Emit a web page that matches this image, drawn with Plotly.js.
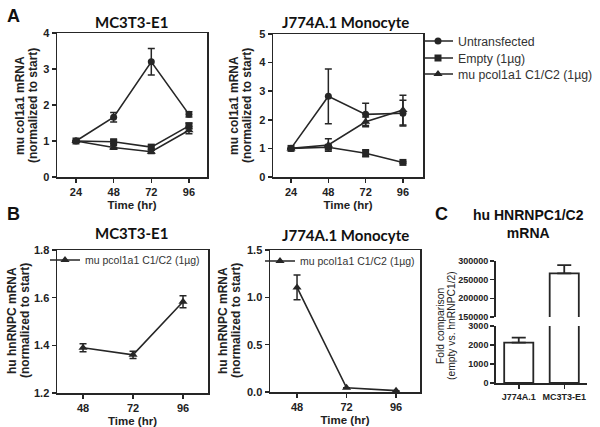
<!DOCTYPE html>
<html><head><meta charset="utf-8">
<script src="https://cdn.plot.ly/plotly-3.0.1.min.js"></script>
<style>html,body{margin:0;padding:0;background:#fff}#chart{width:600px;height:427px}</style>
</head><body><div id="chart"></div>
<script>
// ---- data ----
const timeA = [24, 48, 72, 96];
const a1Untrans = [1.0, 1.66, 3.20, 1.74];
const a1UntransErr = [0, 0.13, 0.37, 0.07];
const a1Empty = [1.0, 0.98, 0.83, 1.42];
const a1EmptyErr = [0, 0.05, 0.05, 0.08];
const a1Pcol = [1.0, 0.82, 0.70, 1.30];
const a1PcolErr = [0, 0.05, 0.05, 0.10];

const a2Untrans = [1.0, 2.82, 2.19, 2.23];
const a2UntransErr = [0, 0.96, 0.39, 0.45];
const a2Empty = [1.0, 1.04, 0.83, 0.51];
const a2EmptyErr = [0, 0.05, 0.12, 0.03];
const a2Pcol = [1.0, 1.12, 1.93, 2.34];
const a2PcolErr = [0, 0.22, 0.17, 0.52];

const timeB = [48, 72, 96];
const b1Pcol = [1.39, 1.36, 1.583];
const b1PcolErr = [0.017, 0.015, 0.025];
const b2Pcol = [1.105, 0.045, 0.014];
const b2PcolErr = [0.13, 0, 0];

const cCats = ["J774A.1", "MC3T3-E1"];
const cVals = [2120, 267000];
const cErr = [265, 22000];

const seriesNames = ["Untransfected", "Empty (1\u00b5g)", "mu pcol1a1 C1/C2 (1\u00b5g)"];

// ---- helpers ----
const W = 600, H = 427;
const fx = p => p / W;
const fy = p => 1 - p / H;
const INK = '#262626';
const FONT = 'Liberation Sans, Arial, sans-serif';

function lineTrace(x, y, err, name, symbol, xa, ya, opts) {
  return Object.assign({
    type: 'scatter', mode: 'lines+markers', x: x, y: y, name: name,
    xaxis: xa, yaxis: ya,
    line: {color: INK, width: 1.6},
    marker: {color: INK, symbol: symbol, size: symbol === 'triangle-up' ? 8 : 7},
    error_y: {type: 'data', array: err, visible: true, color: INK, thickness: 1.5, width: 3.5}
  }, opts || {});
}

const traces = [
  lineTrace(timeA, a1Untrans, a1UntransErr, seriesNames[0], 'circle', 'x', 'y', {legendgroup: 'u', legend: 'legend'}),
  lineTrace(timeA, a1Empty, a1EmptyErr, seriesNames[1], 'square', 'x', 'y', {legendgroup: 'e', legend: 'legend4'}),
  lineTrace(timeA, a1Pcol, a1PcolErr, seriesNames[2], 'triangle-up', 'x', 'y', {legendgroup: 'p', legend: 'legend5'}),
  lineTrace(timeA, a2Untrans, a2UntransErr, seriesNames[0], 'circle', 'x2', 'y2', {legendgroup: 'u', showlegend: false}),
  lineTrace(timeA, a2Empty, a2EmptyErr, seriesNames[1], 'square', 'x2', 'y2', {legendgroup: 'e', showlegend: false}),
  lineTrace(timeA, a2Pcol, a2PcolErr, seriesNames[2], 'triangle-up', 'x2', 'y2', {legendgroup: 'p', showlegend: false}),
  lineTrace(timeB, b1Pcol, b1PcolErr, seriesNames[2], 'triangle-up', 'x3', 'y3', {legend: 'legend2'}),
  lineTrace(timeB, b2Pcol, b2PcolErr, seriesNames[2], 'triangle-up', 'x4', 'y4', {legend: 'legend3'}),
];

function barTrace(ya) {
  return {
    type: 'bar', x: cCats, y: cVals, xaxis: 'x5', yaxis: ya, showlegend: false,
    width: 0.64,
    marker: {color: '#ffffff', line: {color: INK, width: 1.8}},
    error_y: {type: 'data', symmetric: false, array: cErr, arrayminus: [0, 0], visible: true, color: INK, thickness: 1.8, width: 7}
  };
}
traces.push(barTrace('y5'));
traces.push(barTrace('y6'));

const tickFont = {family: FONT, size: 11, color: '#222', weight: 'bold'};
const titleFont = {family: FONT, size: 11.5, color: '#222', weight: 'bold'};

function xAx(dom, range, vals, anchor, title) {
  return {
    domain: dom, range: range, tickvals: vals, ticktext: vals.map(String), anchor: anchor,
    showline: true, linecolor: INK, linewidth: 1.5, mirror: true,
    ticks: 'outside', ticklen: 4, tickwidth: 1.5, tickcolor: INK,
    showgrid: false, zeroline: false, tickfont: tickFont,
    title: {text: title, font: titleFont, standoff: 4}
  };
}
function yAx(dom, range, dtick, fmt, anchor) {
  return {
    domain: dom, range: range, dtick: dtick, tick0: range[0], tickformat: fmt, anchor: anchor,
    showline: true, linecolor: INK, linewidth: 1.5, mirror: true,
    ticks: 'outside', ticklen: 4, tickwidth: 1.5, tickcolor: INK,
    showgrid: false, zeroline: false, tickfont: tickFont
  };
}

const yTitleA = ['mu col1a1 mRNA', '(normalized to start)'];
const yTitleB = ['hu hnRNPC mRNA', '(normalized to start)'];
const yTitleC = ['Fold comparison', '(empty vs. hnRNPC1/2)'];

function leg(xPx, yPx, size) {
  return {
    x: fx(xPx), y: fy(yPx), xanchor: 'left', yanchor: 'middle',
    bgcolor: 'rgba(0,0,0,0)', borderwidth: 0,
    font: {family: FONT, size: size, color: '#333'}
  };
}

function ann(text, xPx, yPx, font, extra) {
  return Object.assign({text: text, x: fx(xPx), y: fy(yPx), xref: 'paper', yref: 'paper',
    xanchor: 'center', yanchor: 'middle', showarrow: false, font: font}, extra || {});
}
const panelFont = {family: FONT, size: 18, weight: 'bold', color: '#111'};
const headFont = {family: 'Lato, sans-serif', size: 15, weight: 'bold', color: '#111'};
const yTitleFont = {family: FONT, size: 12, weight: 'bold', color: '#222'};
const cTitleFont = {family: FONT, size: 10.3, color: '#222'};

function yTitleAnns(lines, x1, x2, yMid, font) {
  return [ann(lines[0], x1, yMid, font, {textangle: -90}), ann(lines[1], x2, yMid, font, {textangle: -90})];
}

const layout = {
  width: W, height: H,
  margin: {l: 0, r: 0, t: 0, b: 0},
  paper_bgcolor: '#fff', plot_bgcolor: 'rgba(0,0,0,0)',
  font: {family: FONT, color: '#222'},
  xaxis: xAx([fx(57), fx(207)], [11.9, 107.5], timeA, 'y', 'Time (hr)'),
  yaxis: yAx([fy(177), fy(33)], [0, 4], 1, 'd', 'x'),
  xaxis2: xAx([fx(273), fx(423)], [12.4, 108.9], timeA, 'y2', 'Time (hr)'),
  yaxis2: yAx([fy(177), fy(34)], [0, 5], 1, 'd', 'x2'),
  xaxis3: xAx([fx(57), fx(208)], [35.5, 108], timeB, 'y3', 'Time (hr)'),
  yaxis3: yAx([fy(393), fy(250)], [1.2, 1.8], 0.2, '.1f', 'x3'),
  xaxis4: xAx([fx(270), fx(420)], [34.9, 107.6], timeB, 'y4', 'Time (hr)'),
  yaxis4: yAx([fy(392), fy(250)], [0, 1.5], 0.5, '.1f', 'x4'),
  xaxis5: {
    domain: [fx(496), fx(587)], type: 'category', range: [-0.5, 1.5], anchor: 'y5',
    showline: true, linecolor: INK, linewidth: 1.8, mirror: false,
    ticks: 'outside', ticklen: 4, tickwidth: 1.5, tickcolor: INK,
    showgrid: false, zeroline: false,
    tickfont: {family: FONT, size: 9, color: '#222', weight: 'bold'}
  },
  yaxis5: {
    domain: [fy(383), fy(326)], range: [0, 3000], dtick: 1000, anchor: 'x5',
    showline: true, linecolor: INK, linewidth: 1.8,
    ticks: 'outside', ticklen: 4, tickwidth: 1.5, tickcolor: INK,
    showgrid: false, zeroline: false,
    tickfont: {family: FONT, size: 9, color: '#222', weight: 'bold'}
  },
  yaxis6: {
    domain: [fy(317), fy(261)], range: [150000, 300000], dtick: 50000, tick0: 150000, anchor: 'x5',
    showline: true, linecolor: INK, linewidth: 1.8,
    ticks: 'outside', ticklen: 4, tickwidth: 1.5, tickcolor: INK,
    showgrid: false, zeroline: false, tickformat: 'd',
    tickfont: {family: FONT, size: 9, color: '#222', weight: 'bold'}
  },
  showlegend: true,
  legend: leg(418, 41, 12.3),
  legend4: leg(418, 58, 12.3),
  legend5: leg(418, 74, 12.3),
  legend2: leg(45, 260, 10.5),
  legend3: leg(260, 261, 10.5),
  annotations: [
    ann('A', 13, 16, panelFont),
    ann('B', 13, 214, panelFont),
    ann('C', 441, 214, panelFont),
    ann('MC3T3-E1', 131, 22, headFont),
    ann('J774A.1 Monocyte', 345, 22, headFont),
    ann('MC3T3-E1', 131, 233, headFont),
    ann('J774A.1 Monocyte', 345, 235, headFont),
    ann('hu HNRNPC1/C2<br>mRNA', 528, 224, {family: FONT, size: 14, weight: 'bold', color: '#111'})
  ]
    .concat(yTitleAnns(yTitleA, 20, 33, 106, yTitleFont))
    .concat(yTitleAnns(yTitleA, 234, 247, 106, yTitleFont))
    .concat(yTitleAnns(yTitleB, 12, 25, 321, yTitleFont))
    .concat(yTitleAnns(yTitleB, 223, 236, 321, yTitleFont))
    .concat(yTitleAnns(yTitleC, 440, 451, 326, cTitleFont))
};

Plotly.newPlot('chart', traces, layout, {displayModeBar: false, staticPlot: true});
</script></body></html>
